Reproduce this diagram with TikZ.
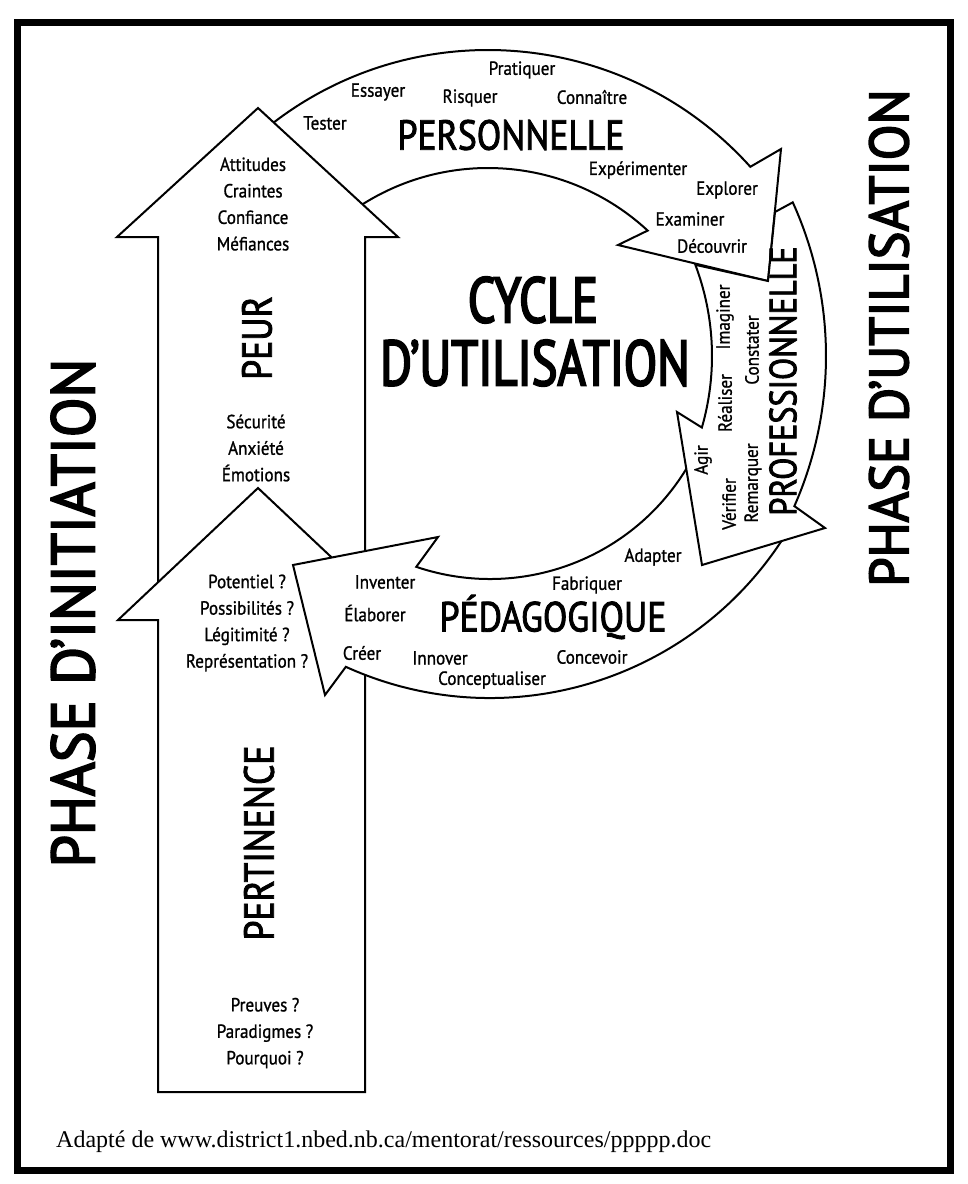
\documentclass[tikz,border=0pt]{standalone}
\usepackage{fontspec}
\setmainfont{Liberation Serif}
\newfontfamily\wordsans{PT Sans}[FakeStretch=0.9,FakeBold=1]
\newfontfamily\bigsans{PT Sans}[FakeStretch=0.85,FakeBold=2]
\newfontfamily\titlesans{PT Sans}[FakeStretch=0.76,FakeBold=3]
\newfontfamily\phasesans{PT Sans}[FakeStretch=0.95,FakeBold=3]
\usepackage{tikz}
\usetikzlibrary{calc}

\begin{document}
\begin{tikzpicture}[x=1pt,y=-1pt,
    arrowbody/.style={draw=black,fill=white,line width=2pt,line join=miter},
    word/.style={font=\wordsans\fontsize{19}{26.5}\selectfont,inner sep=0pt,align=center},
    bigword/.style={font=\bigsans\fontsize{42}{46}\selectfont,inner sep=0pt},
    titleword/.style={font=\titlesans\fontsize{64}{68}\selectfont,inner sep=0pt},
    phase/.style={font=\phasesans\fontsize{61}{65}\selectfont,inner sep=0pt,rotate=90}]
    % Page and frame
    \useasboundingbox (0,0) rectangle (968,1184);
    \fill[white] (0,0) rectangle (968,1184);
    \draw[line width=7pt] (17,22) rectangle (950,1170);

    % Centres of the three arcs
    \coordinate (Cpers) at (488,403);
    \coordinate (Cprof) at (454,356);
    \coordinate (Cpeda) at (490,349);

    % Personnelle arrow (its tail goes under the PEUR head)
    \draw[arrowbody] ($(Cpers)+(-130:353)$) arc[start angle=-130,end angle=-42,radius=353]
        -- (781,149) -- (768,281) -- (618,245)
        -- ($(Cpers)+(-47.2:235)$) arc[start angle=-47.2,end angle=-124,radius=235] -- cycle;

    % Up arrows: PEUR, then PERTINENCE over it
    \draw[arrowbody] (158,660) -- (158,237) -- (117,237) -- (258,108)
        -- (398,237) -- (365,237) -- (365,660) -- cycle;
    \draw[arrowbody] (158,1092) -- (158,620) -- (118,620) -- (258,488)
        -- (398,620) -- (365,620) -- (365,1092) -- cycle;

    % Pedagogique arrow (its tail goes under the professionnelle head)
    \draw[arrowbody] ($(Cpeda)+(30:349)$) arc[start angle=30,end angle=114.4,radius=349]
        -- (325,695) -- (293,565) -- (438,537)
        -- ($(Cpeda)+(108.7:230)$) arc[start angle=108.7,end angle=30,radius=230] -- cycle;

    % Professionnelle arrow (tail cut along the personnelle head)
    \draw[arrowbody] ($(Cprof)+(-24.4:372)$) arc[start angle=-24.4,end angle=23.8,radius=372]
        -- (825,528) -- (702,565) -- (677,412)
        -- ($(Cprof)+(16.1:258)$) arc[start angle=16.1,end angle=-20.7,radius=258]
        -- (768,281) -- (775,212) -- cycle;

    % Phases
    \node[phase] (initiation) at (73,613) {PHASE D’INITIATION};
    \node[phase,font=\phasesans\fontsize{55}{59}\selectfont] (utilisation) at (889,338) {PHASE D’UTILISATION};

    % Centre title
    \node[titleword] (cycle) at (533,300) {CYCLE};
    \node[titleword] (dutil) at (535,363) {D’UTILISATION};

    % Personnelle words
    \node[word] (tester) at (325,123) {Tester};
    \node[word] (essayer) at (378,92) {Essayer};
    \node[word] (risquer) at (470,98) {Risquer};
    \node[word] (pratiquer) at (522,70) {Pratiquer};
    \node[word] (connaitre) at (592,97) {Connaître};
    \node[bigword] (personnelle) at (511,135) {PERSONNELLE};
    \node[word] (experimenter) at (638,170) {Expérimenter};
    \node[word] (explorer) at (727,190) {Explorer};
    \node[word] (examiner) at (690,219) {Examiner};
    \node[word] (decouvrir) at (712,246) {Découvrir};

    % Professionnelle words
    \node[word,rotate=90] (imaginer) at (725,317) {Imaginer};
    \node[word,rotate=90] (constater) at (752,350) {Constater};
    \node[word,rotate=90] (realiser) at (725,403) {Réaliser};
    \node[word,rotate=90] (agir) at (703,460) {Agir};
    \node[word,rotate=90] (remarquer) at (753,483) {Remarquer};
    \node[word,rotate=90] (verifier) at (729,504) {Vérifier};
    \node[bigword,rotate=90,font=\bigsans\fontsize{38}{42}\selectfont] (professionnelle) at (783,381) {PROFESSIONNELLE};

    % Pedagogique words
    \node[word] (adapter) at (653,557) {Adapter};
    \node[word] (fabriquer) at (587,585) {Fabriquer};
    \node[bigword] (pedagogique) at (553,617) {PÉDAGOGIQUE};
    \node[word] (concevoir) at (592,657) {Concevoir};
    \node[word] (conceptualiser) at (492,680) {Conceptualiser};
    \node[word] (innover) at (440,658) {Innover};
    \node[word] (creer) at (362,653) {Créer};
    \node[word] (elaborer) at (375,613) {Élaborer};
    \node[word] (inventer) at (385,582) {Inventer};

    % Words in the up arrows
    \node[word] (attitudes) at (253,204) {Attitudes\\Craintes\\Confiance\\Méfiances};
    \node[bigword,rotate=90] (peur) at (257,338) {PEUR};
    \node[word] (securite) at (256,448) {Sécurité\\Anxiété\\Émotions};
    \node[word] (potentiel) at (247,623) {Potentiel ?\\Possibilités ?\\Légitimité ?\\Représentation ?};
    \node[bigword,rotate=90] (pertinence) at (259,843) {PERTINENCE};
    \node[word] (preuves) at (265,1033) {Preuves ?\\Paradigmes ?\\Pourquoi ?};

    % Source
    \node[anchor=west,inner sep=0pt,font=\fontsize{24}{28}\selectfont] (source) at (56,1142)
        {Adapté de www.district1.nbed.nb.ca/mentorat/ressources/ppppp.doc};
\end{tikzpicture}
\end{document}
